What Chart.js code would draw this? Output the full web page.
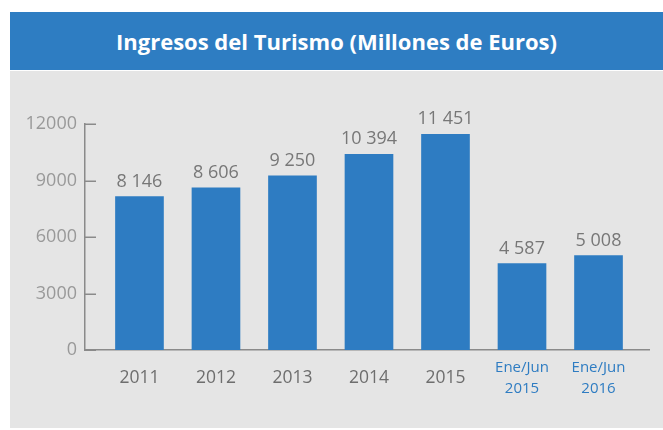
<!DOCTYPE html>
<html>
<head>
<meta charset="utf-8">
<script src="https://cdn.jsdelivr.net/npm/chart.js@4.4.1/dist/chart.umd.min.js"></script>
<style>
  html, body { margin: 0; padding: 0; background: #ffffff; width: 663px; height: 430px; overflow: hidden; }
  #header {
    position: absolute; left: 10px; top: 12px; width: 653px; height: 58px;
    background: #2e7dc2; color: #ffffff;
    font-family: "Open Sans", sans-serif; font-weight: 700; font-size: 22px;
    display: flex; align-items: center; justify-content: center;
  }
  #panel {
    position: absolute; left: 10px; top: 71px; width: 653px; height: 357px;
    background: #e5e5e5;
  }
  canvas { display: block; }
</style>
</head>
<body>
<div id="header">Ingresos del Turismo (Millones de Euros)</div>
<div id="panel"><canvas id="c" width="653" height="357"></canvas></div>
<script>
// ---- data ----
const categories = ['2011', '2012', '2013', '2014', '2015', ['Ene/Jun', '2015'], ['Ene/Jun', '2016']];
const ingresos = [8146, 8606, 9250, 10394, 11451, 4587, 5008];
const yTicks = [0, 3000, 6000, 9000, 12000];

const BLUE = '#2e7cc2';
const FONT = '"Open Sans", "Noto Sans", sans-serif';

function fmt(n) { return String(n).replace(/\B(?=(\d{3})+(?!\d))/g, ' '); }

const innerTicks = {
  id: 'innerTicks',
  afterDraw(chart) {
    const ctx = chart.ctx, y = chart.scales.y, left = chart.chartArea.left;
    ctx.save();
    ctx.strokeStyle = '#8a8a8a';
    ctx.lineWidth = 1.5;
    y.ticks.forEach(t => {
      const py = Math.round(y.getPixelForValue(t.value)) + 0.25;
      ctx.beginPath();
      ctx.moveTo(left, py);
      ctx.lineTo(left + 11, py);
      ctx.stroke();
    });
    ctx.restore();
  }
};

const valueLabels = {
  id: 'valueLabels',
  afterDatasetsDraw(chart) {
    const ctx = chart.ctx;
    const meta = chart.getDatasetMeta(0);
    ctx.save();
    ctx.fillStyle = '#777777';
    ctx.font = '18px ' + FONT;
    ctx.textAlign = 'center';
    ctx.textBaseline = 'alphabetic';
    meta.data.forEach((bar, i) => {
      ctx.fillText(fmt(ingresos[i]), bar.x, bar.y - 10);
    });
    ctx.restore();
  }
};

new Chart(document.getElementById('c'), {
  type: 'bar',
  data: {
    datasets: [{
      data: ingresos.map((v, i) => ({ x: i, y: v })),
      backgroundColor: BLUE,
      borderWidth: 0,
      barThickness: 48
    }]
  },
  options: {
    responsive: false,
    animation: false,
    devicePixelRatio: 1,
    layout: { padding: { top: 53, right: 14, bottom: 0, left: 0 } },
    plugins: { legend: { display: false }, tooltip: { enabled: false }, title: { display: false } },
    scales: {
      x: {
        type: 'linear',
        offset: false,
        min: -0.712,
        max: 6.66,
        grid: { display: false, drawTicks: false, offset: false },
        border: { display: true, color: '#8a8a8a', width: 1.5 },
        afterBuildTicks: s => { s.ticks = categories.map((c, i) => ({ value: i })); },
        afterFit: s => { s.height = 78; },
        ticks: {
          padding: 18,
          crossAlign: 'center',
          maxRotation: 0,
          autoSkip: false,
          callback: v => categories[v],
          color: c => (c.index >= 5 ? '#2e7cc2' : '#6e6e6e'),
          font: c => (c.index >= 5
            ? { family: FONT, size: 15, lineHeight: 1.4 }
            : { family: FONT, size: 17.5, lineHeight: 1.2 })
        }
      },
      y: {
        min: 0,
        max: 12000,
        grid: { display: false, drawTicks: false },
        border: { display: true, color: '#8a8a8a', width: 1.5 },
        afterBuildTicks: s => { s.ticks = yTicks.map(v => ({ value: v })); },
        afterFit: s => { s.width = 75; },
        ticks: {
          padding: 8,
          color: '#999999',
          font: { family: FONT, size: 18 },
          callback: v => String(v)
        }
      }
    }
  },
  plugins: [innerTicks, valueLabels]
});
</script>
</body>
</html>
